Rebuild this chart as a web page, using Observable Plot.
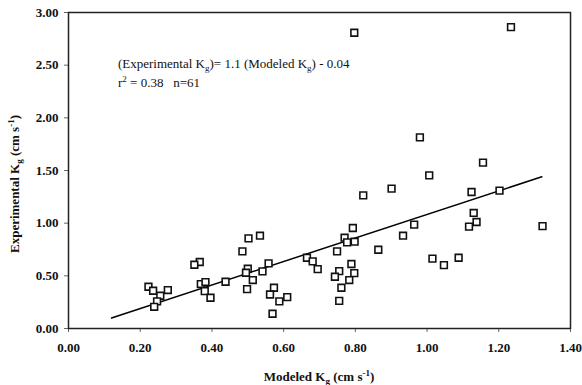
<!DOCTYPE html>
<html><head><meta charset="utf-8">
<script src="https://cdn.jsdelivr.net/npm/d3@7"></script>
<script src="https://cdn.jsdelivr.net/npm/@observablehq/plot@0.6"></script>
<style>body{margin:0;background:#fff} svg{display:block}</style>
</head><body><div id="chart"></div>
<script>
const modeledKg = [0.797,1.234,0.980,1.156,1.006,0.901,0.822,1.124,1.202,1.130,1.138,1.117,1.322,0.964,0.933,0.864,1.015,1.047,1.088,0.793,0.770,0.777,0.798,0.749,0.789,0.755,0.797,0.743,0.783,0.761,0.755,0.665,0.681,0.695,0.534,0.502,0.485,0.558,0.541,0.500,0.495,0.514,0.498,0.573,0.562,0.588,0.610,0.569,0.438,0.366,0.351,0.369,0.382,0.380,0.396,0.223,0.236,0.277,0.256,0.247,0.239];
const experimentalKg = [2.808,2.861,1.814,1.575,1.454,1.328,1.264,1.296,1.309,1.097,1.011,0.967,0.972,0.986,0.881,0.748,0.663,0.602,0.672,0.954,0.862,0.818,0.824,0.732,0.612,0.545,0.526,0.491,0.460,0.387,0.262,0.672,0.637,0.564,0.881,0.856,0.732,0.618,0.542,0.567,0.529,0.460,0.374,0.387,0.323,0.257,0.298,0.140,0.444,0.631,0.605,0.422,0.441,0.355,0.292,0.396,0.358,0.365,0.311,0.257,0.206];
const fitModeled = [0.12, 1.32];
const fitExperimental = [0.10, 1.44];
const xTicks = [0, 0.2, 0.4, 0.6, 0.8, 1.0, 1.2, 1.4];
const yTicks = [0, 0.5, 1.0, 1.5, 2.0, 2.5, 3.0];
const xTitle = [["Modeled K",""],["g","sub"],[" (cm s",""],["-1","sup"],[")",""]];
const yTitle = [["Experimental K",""],["g","sub"],[" (cm s",""],["-1","sup"],[")",""]];
const eqLine = [["(Experimental K",""],["g","sub"],[")= 1.1 (Modeled K",""],["g","sub"],[") - 0.04",""]];
const statLine = [["r",""],["2","sup"],[" = 0.38   n=61",""]];

const points = modeledKg.map((x, i) => ({x, y: experimentalKg[i]}));
const fit = fitModeled.map((x, i) => ({x, y: fitExperimental[i]}));
const FONT = "Liberation Serif, Times New Roman, serif";

const chart = Plot.plot({
  width: 582, height: 385,
  marginLeft: 68, marginRight: 12, marginTop: 12, marginBottom: 57,
  style: {fontFamily: FONT, fontSize: "13px", fontWeight: "bold", color: "#111", background: "#fff"},
  x: {domain: [0, 1.4], label: null},
  y: {domain: [0, 3], label: null},
  marks: [
    Plot.axisX({ticks: xTicks, tickFormat: d3.format(".2f"), tickSize: 4, tickPadding: 10, stroke: "#666", label: null}),
    Plot.axisY({ticks: yTicks, tickFormat: d3.format(".2f"), tickSize: 4, tickPadding: 6, stroke: "#666", label: null}),
    Plot.line(fit, {x: "x", y: "y", stroke: "#000", strokeWidth: 1.5}),
    Plot.dot(points, {x: "x", y: "y", symbol: "square", r: 3.8, stroke: "#111", strokeWidth: 1.6, fill: "#fff"}),
    Plot.frame({stroke: "#222", strokeWidth: 1.5})
  ]
});
document.getElementById("chart").appendChild(chart);

function rich(sel, parts, size) {
  let shift = 0;
  for (const [t, kind] of parts) {
    const target = kind === "sub" ? 3 : kind === "sup" ? -5 : 0;
    sel.append("tspan")
      .attr("dy", target - shift)
      .attr("font-size", kind ? Math.round(size * 0.66) : size)
      .text(t);
    shift = target;
  }
}
const svg = d3.select(chart);
const tx = svg.append("text").attr("x", 319).attr("y", 381).attr("text-anchor", "middle")
  .attr("font-family", FONT).attr("font-weight", "bold").attr("fill", "#111");
rich(tx, xTitle, 13);
const ty = svg.append("text").attr("transform", "translate(19,184) rotate(-90)").attr("text-anchor", "middle")
  .attr("font-family", FONT).attr("font-weight", "bold").attr("fill", "#111");
rich(ty, yTitle, 13);
const t1 = svg.append("text").attr("x", 118).attr("y", 68).attr("text-anchor", "start")
  .attr("font-family", FONT).attr("font-weight", "normal").attr("fill", "#111");
rich(t1, eqLine, 13);
const t2 = svg.append("text").attr("x", 118).attr("y", 87).attr("text-anchor", "start")
  .attr("font-family", FONT).attr("font-weight", "normal").attr("fill", "#111").style("white-space", "pre");
rich(t2, statLine, 13);
</script>
</body></html>
